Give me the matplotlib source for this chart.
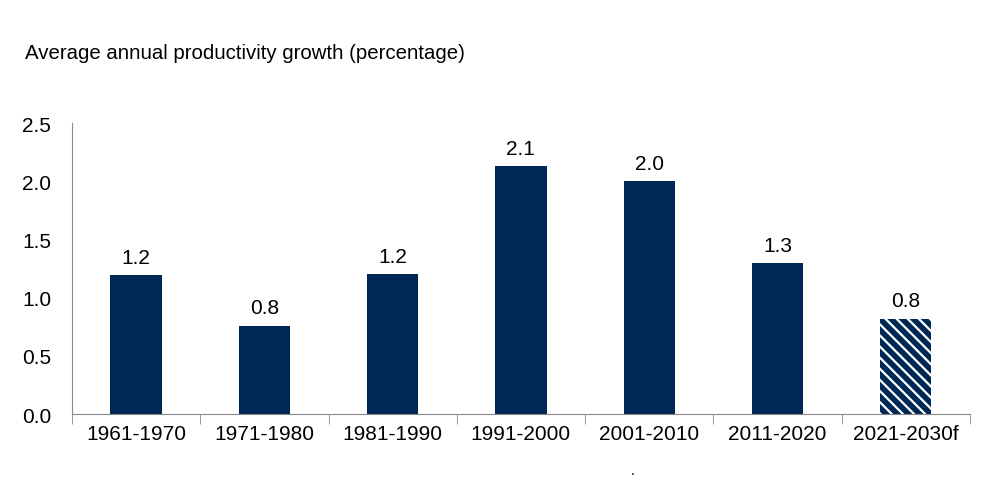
import numpy as np
import matplotlib.pyplot as plt

periods = ["1961-1970", "1971-1980", "1981-1990", "1991-2000",
           "2001-2010", "2011-2020", "2021-2030f"]
growth = [1.19, 0.76, 1.20, 2.13, 2.00, 1.30, 0.82]
forecast = [False, False, False, False, False, False, True]

navy = "#002855"
plt.rcParams["font.family"] = ["Liberation Sans", "DejaVu Sans"]
plt.rcParams["hatch.linewidth"] = 1.6

fig = plt.figure(figsize=(9.92, 4.85), dpi=100)
ax = fig.add_axes([0.0726, 0.1443, 0.905, 0.6])

x = np.arange(len(periods))
bars = ax.bar(x, growth, width=0.4, color=navy)
for b, f in zip(bars, forecast):
    if f:
        b.set_hatch("\\\\\\")
        b.set_edgecolor("white")
        b.set_linewidth(0)

for xi, v in zip(x, growth):
    ax.text(xi, v + 0.07, f"{v:.1f}", ha="center", va="bottom", fontsize=15)

ax.set_xlim(-0.5, len(periods) - 0.5)
ax.set_ylim(0, 2.5)
ax.set_yticks(np.arange(0, 2.51, 0.5))
ax.set_yticklabels([f"{t:.1f}" for t in np.arange(0, 2.51, 0.5)], fontsize=15)
ax.set_xticks(x)
ax.set_xticklabels(periods, fontsize=15)
ax.set_xticks(np.arange(-0.5, len(periods), 1), minor=True)
ax.tick_params(axis="x", which="major", length=0, pad=7)
ax.tick_params(axis="x", which="minor", length=7, color="#888888")
ax.tick_params(axis="y", length=0, pad=15)

for s in ["top", "right"]:
    ax.spines[s].set_visible(False)
ax.spines["left"].set_color("#888888")
ax.spines["bottom"].set_color("#888888")

fig.text(0.025, 0.89, "Average annual productivity growth (percentage)",
         fontsize=14.7, va="center")
fig.text(0.636, 0.02, ".", fontsize=10)

fig.savefig("out.png", dpi=100)
